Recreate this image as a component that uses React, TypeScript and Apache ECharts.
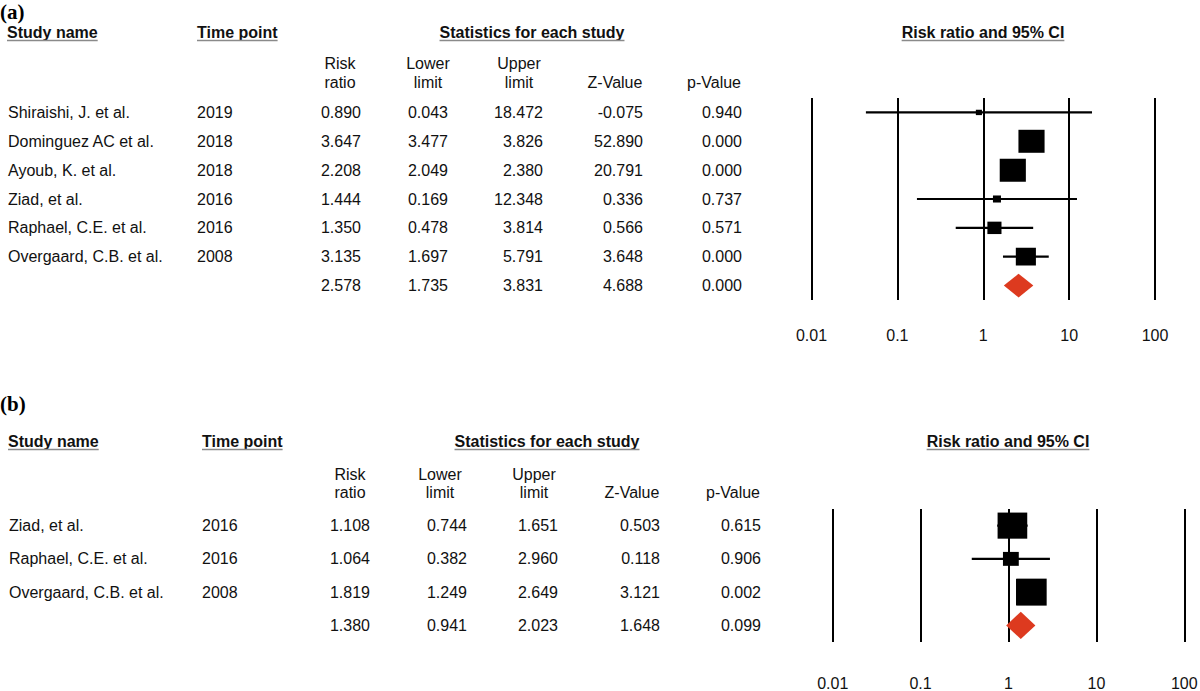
import React, { useEffect, useRef } from "react";
import * as echarts from "echarts";

// ---------- Data: panel (a) ----------
const studiesA = ["Shiraishi, J. et al.", "Dominguez AC et al.", "Ayoub, K. et al.", "Ziad, et al.", "Raphael, C.E. et al.", "Overgaard, C.B. et al."];
const yearsA = ["2019", "2018", "2018", "2016", "2016", "2008"];
const rrA = [0.89, 3.647, 2.208, 1.444, 1.35, 3.135];
const lowerA = [0.043, 3.477, 2.049, 0.169, 0.478, 1.697];
const upperA = [18.472, 3.826, 2.38, 12.348, 3.814, 5.791];
const zA = [-0.075, 52.89, 20.791, 0.336, 0.566, 3.648];
const pA = [0.94, 0.0, 0.0, 0.737, 0.571, 0.0];
const weightA = [1.8, 33.0, 33.0, 3.1, 9.6, 19.5];
const pooledA = [2.578, 1.735, 3.831, 4.688, 0.0];

// ---------- Data: panel (b) ----------
const studiesB = ["Ziad, et al.", "Raphael, C.E. et al.", "Overgaard, C.B. et al."];
const yearsB = ["2016", "2016", "2008"];
const rrB = [1.108, 1.064, 1.819];
const lowerB = [0.744, 0.382, 1.249];
const upperB = [1.651, 2.96, 2.649];
const zB = [0.503, 0.118, 3.121];
const pB = [0.615, 0.906, 0.002];
const weightB = [42.5, 12.1, 45.4];
const pooledB = [1.38, 0.941, 2.023, 1.648, 0.099];

const tickLabels = ["0.01", "0.1", "1", "10", "100"];
const colHeads1 = ["Risk", "Lower", "Upper", "", ""];
const colHeads2 = ["ratio", "limit", "limit", "Z-Value", "p-Value"];

const FONT = '"Liberation Sans", Arial, Helvetica, sans-serif';
const SERIF = '"Liberation Serif", "Times New Roman", serif';

const panels = [
  {
    label: "(a)", labelY: 12,
    studies: studiesA, years: yearsA, rr: rrA, lo: lowerA, hi: upperA, z: zA, p: pA, w: weightA, pooled: pooledA,
    grid: { left: 811.5, top: 98, width: 343.5, height: 202 },
    labelMargin: 27,
    headY: 32, nameX: 7, yearX: 197, statsC: 532, ciC: 983,
    hy1: 63, hy2: 82,
    rights: [361, 448, 543, 643, 742],
    heads: [340, 428, 519, 615, 714],
  },
  {
    label: "(b)", labelY: 404,
    studies: studiesB, years: yearsB, rr: rrB, lo: lowerB, hi: upperB, z: zB, p: pB, w: weightB, pooled: pooledB,
    grid: { left: 832.7, top: 509, width: 351.6, height: 133 },
    labelMargin: 33,
    headY: 441, nameX: 8, yearX: 202, statsC: 547, ciC: 1008,
    hy1: 474, hy2: 492,
    rights: [370, 467, 558, 660, 761],
    heads: [350, 440, 534, 632, 733],
  },
];

const K = 4.55;

function measure(text: string, font: string): number {
  const c = document.createElement("canvas");
  const ctx = c.getContext("2d");
  if (!ctx) return text.length * 8;
  ctx.font = font;
  return ctx.measureText(text).width;
}

export default function App() {
  const ref = useRef<HTMLDivElement>(null);

  useEffect(() => {
    if (!ref.current) return;
    const chart = echarts.init(ref.current, null, { renderer: "svg" });

    const graphics: any[] = [];
    const grids: any[] = [];
    const xAxes: any[] = [];
    const yAxes: any[] = [];
    const series: any[] = [];

    panels.forEach((pn, pi) => {
      const n = pn.studies.length + 1;
      const rowH = pn.grid.height / n;
      const rowY = (i: number) => pn.grid.top + (i + 0.5) * rowH;

      grids.push({ ...pn.grid, containLabel: false, outerBoundsMode: "none" });
      xAxes.push({
        type: "log", logBase: 10, min: 0.01, max: 100, gridIndex: pi,
        axisLine: { show: false }, axisTick: { show: false },
        splitLine: { show: true, showMinLine: true, showMaxLine: true, lineStyle: { color: "#000", width: 2 } },
        axisLabel: {
          margin: pn.labelMargin, color: "#111", fontSize: 16, fontFamily: FONT,
          formatter: (_v: number, idx: number) => tickLabels[idx] ?? "",
        },
      });
      yAxes.push({ type: "value", min: -0.5, max: n - 0.5, inverse: true, show: false, gridIndex: pi });

      series.push({
        type: "custom", xAxisIndex: pi, yAxisIndex: pi,
        encode: { x: 0, y: 3 },
        data: pn.rr.map((v, i) => [v, pn.lo[i], pn.hi[i], i, pn.w[i]]),
        renderItem: (_params: any, api: any) => {
          const idx = api.value(3);
          const c = api.coord([api.value(0), idx]);
          const l = api.coord([api.value(1), idx]);
          const h = api.coord([api.value(2), idx]);
          const s = Math.sqrt(api.value(4)) * K;
          return {
            type: "group",
            children: [
              { type: "line", shape: { x1: l[0], y1: c[1], x2: h[0], y2: c[1] }, style: { stroke: "#000", lineWidth: 2.2 } },
              { type: "rect", shape: { x: c[0] - s / 2, y: c[1] - s * 0.44, width: s, height: s * 0.88 }, style: { fill: "#000" } },
            ],
          };
        },
      });
      series.push({
        type: "custom", xAxisIndex: pi, yAxisIndex: pi,
        encode: { x: 0, y: 3 },
        data: [[pn.pooled[0], pn.pooled[1], pn.pooled[2], n - 1]],
        renderItem: (_params: any, api: any) => {
          const idx = api.value(3);
          const c = api.coord([api.value(0), idx]);
          const l = api.coord([api.value(1), idx]);
          const h = api.coord([api.value(2), idx]);
          const hh = api.size([0, 1])[1] * 0.41;
          return {
            type: "polygon",
            shape: { points: [[l[0], c[1]], [c[0], c[1] - hh], [h[0], c[1]], [c[0], c[1] + hh]] },
            style: { fill: "#dd3a1f" },
          };
        },
      });

      // panel label
      graphics.push({ type: "text", x: 0, y: pn.labelY, style: { text: pn.label, font: `bold 21px ${SERIF}`, fill: "#000", align: "left", verticalAlign: "middle" } });

      // section headers with underline
      const headFont = `bold 16px ${FONT}`;
      const heads = [
        { t: "Study name", x: pn.nameX, a: "left" },
        { t: "Time point", x: pn.yearX, a: "left" },
        { t: "Statistics for each study", x: pn.statsC, a: "center" },
        { t: "Risk ratio and 95% CI", x: pn.ciC, a: "center" },
      ];
      heads.forEach((hd) => {
        graphics.push({ type: "text", x: hd.x, y: pn.headY, style: { text: hd.t, font: headFont, fill: "#111", align: hd.a, verticalAlign: "middle" } });
        const w = measure(hd.t, headFont);
        const x0 = hd.a === "left" ? hd.x : hd.x - w / 2;
        graphics.push({ type: "line", shape: { x1: x0, y1: pn.headY + 8.5, x2: x0 + w, y2: pn.headY + 8.5 }, style: { stroke: "#8a8a8a", lineWidth: 1.5 } });
      });

      // column headers
      const cellFont = `16px ${FONT}`;
      pn.heads.forEach((cx, ci) => {
        if (colHeads1[ci]) graphics.push({ type: "text", x: cx, y: pn.hy1, style: { text: colHeads1[ci], font: cellFont, fill: "#111", align: "center", verticalAlign: "middle" } });
        graphics.push({ type: "text", x: cx, y: pn.hy2, style: { text: colHeads2[ci], font: cellFont, fill: "#111", align: "center", verticalAlign: "middle" } });
      });

      // rows
      const cols = [pn.rr, pn.lo, pn.hi, pn.z, pn.p];
      for (let i = 0; i < n; i++) {
        const y = rowY(i);
        const isPooled = i === n - 1;
        if (!isPooled) {
          graphics.push({ type: "text", x: pn.nameX + 1, y, style: { text: pn.studies[i], font: cellFont, fill: "#111", align: "left", verticalAlign: "middle" } });
          graphics.push({ type: "text", x: pn.yearX, y, style: { text: pn.years[i], font: cellFont, fill: "#111", align: "left", verticalAlign: "middle" } });
        }
        cols.forEach((col, ci) => {
          const v = isPooled ? pn.pooled[ci] : col[i];
          graphics.push({ type: "text", x: pn.rights[ci], y, style: { text: v.toFixed(3), font: cellFont, fill: "#111", align: "right", verticalAlign: "middle" } });
        });
      }
    });

    chart.setOption({
      animation: false,
      backgroundColor: "#fff",
      grid: grids,
      xAxis: xAxes,
      yAxis: yAxes,
      series,
      graphic: graphics,
    });

    return () => chart.dispose();
  }, []);

  return <div ref={ref} style={{ position: "absolute", left: 0, top: 0, width: 1200, height: 691 }} />;
}
